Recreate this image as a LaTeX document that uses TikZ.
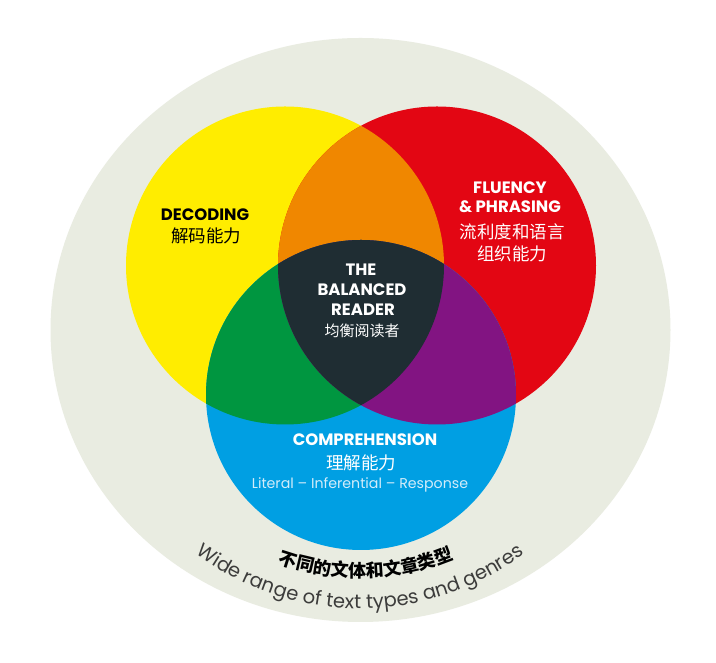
\documentclass[tikz,border=0pt]{standalone}
\usepackage{fontspec}
\setmainfont{Poppins}
\newfontfamily\cjk{Noto Sans CJK SC}
\usepackage{tikz}
\usetikzlibrary{decorations.text}
\definecolor{crema}{RGB}{233,236,225}
\definecolor{amarillo}{RGB}{255,237,0}
\definecolor{rojo}{RGB}{227,6,19}
\definecolor{azul}{RGB}{0,159,227}
\definecolor{naranja}{RGB}{240,135,0}
\definecolor{verde}{RGB}{0,150,64}
\definecolor{morado}{RGB}{130,20,130}
\definecolor{pizarra}{RGB}{31,45,51}
\definecolor{celeste}{RGB}{210,236,250}
\definecolor{grisOscuro}{RGB}{60,60,59}
\tikzstyle{titulo}=[inner sep=0pt, font=\bfseries\fontsize{16.5}{20}\selectfont]
\tikzstyle{chino} =[inner sep=0pt, font=\cjk\fontsize{17.5}{20}\selectfont]
\tikzstyle{lema}  =[inner sep=0pt, font=\fontsize{14.2}{16}\selectfont]

\begin{document}
\begin{tikzpicture}[x=1pt,y=1pt]
    \useasboundingbox (0,0) rectangle (716,663);
    \fill[white] (0,0) rectangle (716,663);

    \coordinate (O) at (360.5,333);
    \coordinate (A) at (360,328.5);
    \coordinate (Y) at (285,397.5);
    \coordinate (R) at (437,397.5);
    \coordinate (B) at (361,268);

    % fondo y circulos
    \fill[crema] (O) ellipse [x radius=310, y radius=292];
    \fill[amarillo] (Y) circle (159);
    \fill[rojo] (R) circle (159);
    \fill[azul] (B) circle (155);

    % intersecciones
    \begin{scope}
        \clip (Y) circle (159);
        \fill[naranja] (R) circle (159);
        \fill[verde] (B) circle (155);
    \end{scope}
    \begin{scope}
        \clip (R) circle (159);
        \fill[morado] (B) circle (155);
        \clip (Y) circle (159);
        \fill[pizarra] (B) circle (155);
    \end{scope}

    % textos
    \draw (205,448.5) node (dec) [titulo,black] {DECODING};
    \draw (206,427) node (decC) [chino,black] {解码能力};

    \draw (510,475) node (flu) [titulo,white] {FLUENCY};
    \draw (510,456) node (fra) [titulo,white] {\& PHRASING};
    \draw (512,431) node (fluC) [chino,white] {流利度和语言};
    \draw (512,409) node (fluC2) [chino,white] {组织能力};

    \draw (361,393) node (the) [titulo,white] {THE};
    \draw (362,373) node (bal) [titulo,white] {BALANCED};
    \draw (363,353) node (rea) [titulo,white] {READER};
    \draw (362,332) node (reaC) [chino,white,font=\cjk\fontsize{15}{18}\selectfont] {均衡阅读者};

    \draw (365,223) node (com) [titulo,white] {COMPREHENSION};
    \draw (361,200) node (comC) [chino,white] {理解能力};
    \draw (360,178) node (lit) [lema,celeste] {Literal – Inferential – Response};

    % texto en arco
    \path[decorate, decoration={text along path, text align=center,
        text color=black,
        text={|\cjk\bfseries\fontsize{18}{20}\selectfont|不同的文体和文章类型}}]
        (A) ++(201.5:243) arc [start angle=201.5, end angle=341.5, radius=243];
    \path[decorate, decoration={text along path, text align=center,
        text color=grisOscuro,
        text={|\fontsize{19.5}{22}\selectfont|Wide range of text types and genres}}]
        (A) ++(200:274) arc [start angle=200, end angle=340, radius=274];
\end{tikzpicture}
\end{document}
